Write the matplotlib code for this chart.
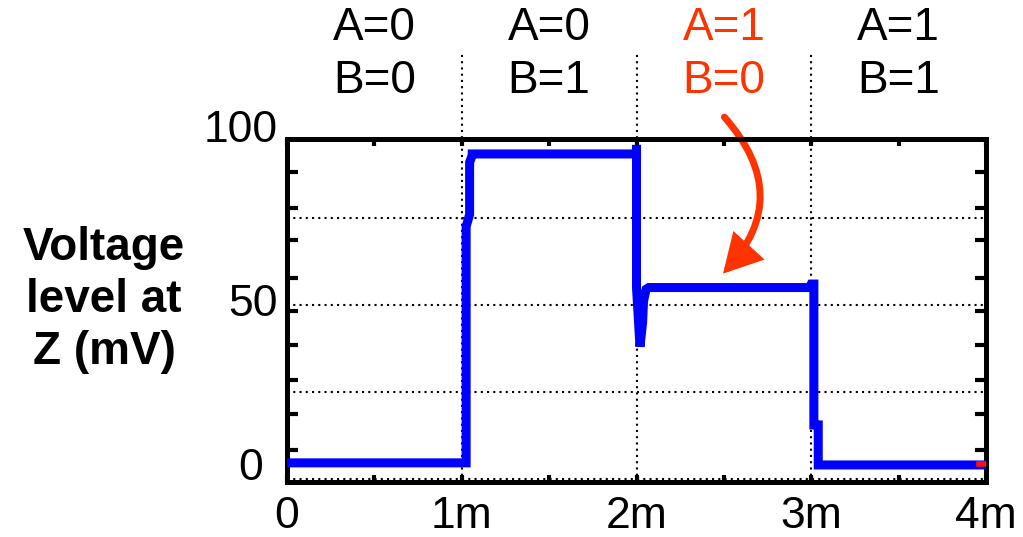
import matplotlib
matplotlib.use("Agg")
import matplotlib.pyplot as plt
from matplotlib.patches import FancyArrowPatch

plt.rcParams['font.family'] = ['Liberation Sans', 'DejaVu Sans']

# ---- data ----
time_ms = [0.0, 1.025, 1.025, 1.045, 1.045, 1.06, 1.06, 2.0, 2.0, 2.0, 2.02, 2.035, 2.04,
           2.055, 2.07, 2.99, 3.0, 3.015, 3.015, 3.04, 3.04, 4.0]
voltage_mv = [4.6, 4.6, 72.5, 76.0, 91.0, 93.0, 93.4, 93.4, 96.0, 55.0, 38.0, 45.0, 51.0,
              54.5, 55.0, 55.0, 56.0, 56.0, 15.5, 15.5, 4.0, 4.0]
end_mark_x = [3.96, 4.0]
end_mark_y = [4.2, 4.2]
segments = [0.5, 1.5, 2.5, 3.5]
segment_labels = ["A=0\nB=0", "A=0\nB=1", "A=1\nB=0", "A=1\nB=1"]
segment_colors = ["black", "black", "#FF3300", "black"]
xticks = [0, 1, 2, 3, 4]
xtick_labels = ["0", "1m", "2m", "3m", "4m"]
yticks = [0, 50, 100]
ytick_labels = ["0", "50", "100"]
grid_x = [1, 2, 3]
grid_y = [0, 25, 50, 75]

W, H = 1023, 537
fig = plt.figure(figsize=(W / 100, H / 100), dpi=100)
ax = fig.add_axes([287 / W, (H - 482) / H, (986 - 287) / W, (482 - 139) / H])
ax.set_xlim(0, 4)
ax.set_ylim(-0.9, 97.7)

dot = (0, (1, 2.0))
for gx in grid_x:
    ax.plot([gx, gx], [-0.9, 123], color='black', lw=1.5, ls=dot, clip_on=False, zorder=1)
for gy in grid_y:
    ax.plot([0, 4], [gy, gy], color='black', lw=1.5, ls=dot, zorder=1)

ax.plot(time_ms, voltage_mv, color='#0000FF', lw=6.5, solid_joinstyle='miter', zorder=3)
ax.plot(end_mark_x, end_mark_y, color='#FF1010', lw=4, zorder=4)

for s in ax.spines.values():
    s.set_linewidth(3.6)

ax.set_xticks(xticks)
ax.set_xticklabels(xtick_labels, fontsize=32)
ax.set_xticks([0.5, 1.5, 2.5, 3.5], minor=True)
ax.tick_params(axis='x', which='both', direction='in', length=5, width=3,
               top=True, bottom=True, pad=10)
ax.set_yticks([])
ax.set_yticks([8.3, 18.7, 28.4, 38.5, 48.3, 57.8, 68.7, 77.9, 88.2], minor=True)
ax.tick_params(axis='y', which='minor', direction='in', length=8, width=3,
               left=True, right=True)

label_yoff = [3.0, 0.0, 0.0]
label_xpos = [-0.14, -0.055, -0.055]
for yv, lab, off, xp in zip(yticks, ytick_labels, label_yoff, label_xpos):
    ax.text(xp, yv + off, lab, fontsize=32, ha='right', va='center', clip_on=False)

for xs, lab, c in zip(segments, segment_labels, segment_colors):
    ax.text(xs, 122, lab, fontsize=33, color=c, ha='center', va='center',
            linespacing=1.27, clip_on=False)

fig.text(104 / W, 1 - 300 / H, "Voltage\nlevel at\nZ (mV)", fontsize=33,
         fontweight='bold', ha='center', va='center', linespacing=1.25)

arrow = FancyArrowPatch((2.503, 104), (2.495, 59.0), connectionstyle="arc3,rad=-0.45",
                        arrowstyle="-|>,head_length=20,head_width=11", color='#FF3300',
                        lw=5, clip_on=False, mutation_scale=1, shrinkA=0, shrinkB=0,
                        joinstyle='miter')
ax.add_patch(arrow)

fig.savefig("out.png", dpi=100)
